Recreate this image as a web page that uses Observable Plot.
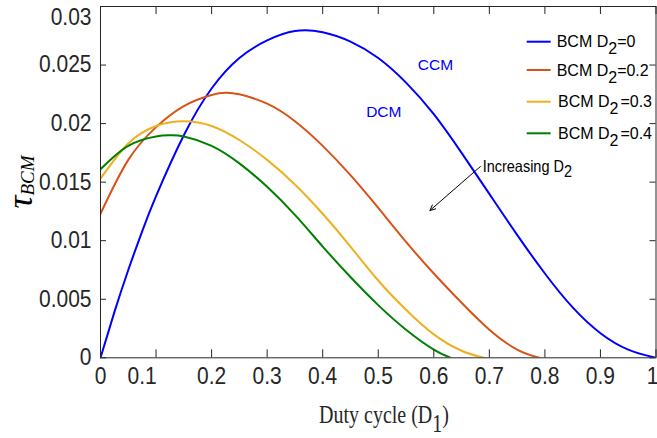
<!DOCTYPE html>
<html><head><meta charset="utf-8">
<script src="https://cdn.jsdelivr.net/npm/d3@7"></script>
<script src="https://cdn.jsdelivr.net/npm/@observablehq/plot@0.6"></script>
<style>
body{margin:0;background:#fff}
#chart{position:relative;width:657px;height:438px}
</style>
</head><body><div id="chart"></div>
<script>
// ---- data ----
const seriesD2 = ["0", "0.2", "0.3", "0.4"];
const seriesColors = ["#0000ff", "#d95319", "#edb120", "#008000"];

const duty0 = [0, 0.025, 0.05, 0.075, 0.10, 0.15, 0.20, 0.25, 0.30, 0.35, 0.40, 0.45, 0.50, 0.55, 0.60, 0.65, 0.70, 0.75, 0.80, 0.85, 0.90, 0.95, 1.00];
const tau0  = [0, 0.0039, 0.0075, 0.0108, 0.0138, 0.0190, 0.0230, 0.0256, 0.0271, 0.0279, 0.0278, 0.0270, 0.0256, 0.0235, 0.0208, 0.0175, 0.0140, 0.0105, 0.0072, 0.0043, 0.0021, 0.0007, 0];

const duty2 = [0, 0.05, 0.10, 0.15, 0.20, 0.225, 0.25, 0.30, 0.35, 0.40, 0.45, 0.50, 0.55, 0.60, 0.65, 0.70, 0.75, 0.79];
const tau2  = [0.0123, 0.0169, 0.0197, 0.0215, 0.02245, 0.02263, 0.0225, 0.0217, 0.0202, 0.0181, 0.0156, 0.0128, 0.0099, 0.0072, 0.0047, 0.0024, 0.0007, 0];

const duty3 = [0, 0.05, 0.10, 0.15, 0.20, 0.25, 0.30, 0.35, 0.40, 0.45, 0.50, 0.55, 0.60, 0.65, 0.69];
const tau3  = [0.0153, 0.0183, 0.0198, 0.0202, 0.0198, 0.0186, 0.0169, 0.0148, 0.0123, 0.0095, 0.0066, 0.0041, 0.0020, 0.0006, 0];

const duty4 = [0, 0.05, 0.10, 0.125, 0.15, 0.20, 0.25, 0.30, 0.35, 0.40, 0.45, 0.50, 0.55, 0.60, 0.63];
const tau4  = [0.0161, 0.0181, 0.0189, 0.0190, 0.0189, 0.0181, 0.0166, 0.0146, 0.0122, 0.0095, 0.0069, 0.0045, 0.0024, 0.0007, 0];

const xTicks = [0, 0.1, 0.2, 0.3, 0.4, 0.5, 0.6, 0.7, 0.8, 0.9, 1];
const xTickLabels = ["0", "0.1", "0.2", "0.3", "0.4", "0.5", "0.6", "0.7", "0.8", "0.9", "1"];
const yTicks = [0, 0.005, 0.01, 0.015, 0.02, 0.025, 0.03];
const yTickLabels = ["0", "0.005", "0.01", "0.015", "0.02", "0.025", "0.03"];

const regionLabels = ["CCM", "DCM"];
const regionD = [0.603, 0.51];
const regionTau = [0.02496, 0.02097];

const arrowFrom = [0.684, 0.01634];
const arrowTo = [0.593, 0.01258];
const arrowTextAt = [0.6888, 0.01585];

// ---- build table ----
const dutyArr = [duty0, duty2, duty3, duty4];
const tauArr = [tau0, tau2, tau3, tau4];
const rows = [];
seriesD2.forEach((s, k) => dutyArr[k].forEach((d, i) => rows.push({series: s, D: d, tau: tauArr[k][i]})));

const W = 657, H = 438, ML = 100, MR = 1.5, MT = 6, MB = 80.7;
const plotW = W - ML - MR, plotH = H - MT - MB;
const axisColor = "#262626";
const xLab = new Map(xTicks.map((t, i) => [t, xTickLabels[i]]));
const yLab = new Map(yTicks.map((t, i) => [t, yTickLabels[i]]));

const plot = Plot.plot({
  width: W, height: H,
  marginLeft: ML, marginRight: MR, marginTop: MT, marginBottom: MB,
  style: {fontFamily: "'Liberation Sans', Arial, sans-serif", background: "white", overflow: "visible"},
  x: {domain: [0, 1], axis: null},
  y: {domain: [0, 0.03], axis: null},
  color: {domain: seriesD2, range: seriesColors},
  marks: [
    Plot.line(rows, {x: "D", y: "tau", z: "series", stroke: "series", strokeWidth: 2, curve: "natural", clip: true}),
    Plot.frame({stroke: axisColor, strokeWidth: 1}),
    Plot.tickY(yTicks, {y: d => d, insetRight: plotW - 6, stroke: axisColor}),
    Plot.tickY(yTicks, {y: d => d, insetLeft: plotW - 6, stroke: axisColor}),
    Plot.tickX(xTicks, {x: d => d, insetTop: plotH - 8, stroke: axisColor}),
    Plot.tickX(xTicks, {x: d => d, insetBottom: plotH - 8, stroke: axisColor}),
    Plot.axisX(xTicks, {tickSize: 0, tickPadding: 10, tickFormat: d => xLab.get(d), fontSize: 21, fill: axisColor, label: null}),
    Plot.axisY(yTicks, {tickSize: 0, tickPadding: 9, tickFormat: d => yLab.get(d), fontSize: 21, fill: axisColor, label: null}),
    Plot.text(regionLabels, {x: (d, i) => regionD[i], y: (d, i) => regionTau[i], text: d => d, fill: "#0000ff", fontSize: 15.5, ariaLabel: "region"}),
    Plot.arrow([0], {x1: () => arrowFrom[0], y1: () => arrowFrom[1], x2: () => arrowTo[0], y2: () => arrowTo[1], stroke: "black", strokeWidth: 1, headLength: 9, headAngle: 50})
  ]
});
document.getElementById("chart").appendChild(plot);

const svg = d3.select(plot);
function stretch(sel, s) {
  sel.each(function() {
    const el = d3.select(this);
    let t = el.attr("transform");
    if (!t) { t = `translate(${el.attr("x") || 0},${el.attr("y") || 0})`; el.attr("x", null); }
    el.attr("transform", t + ` scale(1,${s})`);
  });
}
function shift(sel, label, dx, dy) {
  sel.filter(function() { return this.textContent === label; })
    .each(function() { const e = d3.select(this); e.attr("transform", `translate(${dx},${dy}) ` + e.attr("transform")); });
}
const xLabSel = svg.selectAll('g[aria-label="x-axis tick label"] text');
const yLabSel = svg.selectAll('g[aria-label="y-axis tick label"] text');
stretch(xLabSel, 1.1);
stretch(yLabSel, 1.1);
stretch(svg.selectAll('g[aria-label="region"] text'), 1.2);
shift(yLabSel, "0.03", 0, 10.7);
shift(xLabSel, "0.1", -14, 0);
shift(xLabSel, "1", -3.5, 0);

const xs = plot.scale("x"), ys = plot.scale("y");
const sx = v => xs && xs.apply ? xs.apply(v) : ML + v * plotW;
const sy = v => ys && ys.apply ? ys.apply(v) : MT + plotH * (1 - v / 0.03);

// "Increasing D2"
const inc = svg.append("text")
  .attr("transform", `translate(${sx(arrowTextAt[0])},${sy(arrowTextAt[1])}) scale(1,1.15)`)
  .attr("text-anchor", "start")
  .attr("font-family", "'Liberation Sans', Arial, sans-serif").attr("font-size", 14.5).attr("fill", "black");
inc.append("tspan").text("Increasing D");
inc.append("tspan").attr("dy", 5).text("2");

// legend
const leg = svg.append("g").attr("text-anchor", "start")
  .attr("font-family", "'Liberation Sans', Arial, sans-serif").attr("font-size", 16).attr("fill", "black");
const legY = [41.7, 70, 101.7, 133.3];
seriesD2.forEach((s, i) => {
  leg.append("line").attr("x1", 526.7).attr("x2", 550.7).attr("y1", legY[i]).attr("y2", legY[i])
    .attr("stroke", seriesColors[i]).attr("stroke-width", 2);
  const t = leg.append("text").attr("transform", `translate(${i < 2 ? 556.7 : 558},${legY[i] + 5.5}) scale(1,1.08)`);
  t.append("tspan").text("BCM D");
  t.append("tspan").attr("dy", 6.5).text("2");
  t.append("tspan").attr("dy", -6.5).attr("dx", i < 2 ? 0 : 2).text("=" + s);
});

// y label
const yl = svg.append("text")
  .attr("transform", "translate(32,182) rotate(-90)")
  .attr("text-anchor", "middle")
  .attr("font-family", "'Liberation Serif', 'Times New Roman', serif").attr("font-style", "italic").attr("fill", "black");
yl.append("tspan").attr("font-size", 36).text("τ");
yl.append("tspan").attr("font-size", 19).attr("dy", 2).text("BCM");

// x label
const xl = svg.append("text")
  .attr("transform", "translate(384,423) scale(1,1.3)")
  .attr("text-anchor", "middle")
  .attr("font-family", "'Liberation Serif', 'Times New Roman', serif").attr("font-size", 20).attr("fill", axisColor);
xl.append("tspan").text("Duty cycle (D");
xl.append("tspan").attr("dy", 7).text("1");
xl.append("tspan").attr("dy", -7).text(")");
</script>
</body></html>
